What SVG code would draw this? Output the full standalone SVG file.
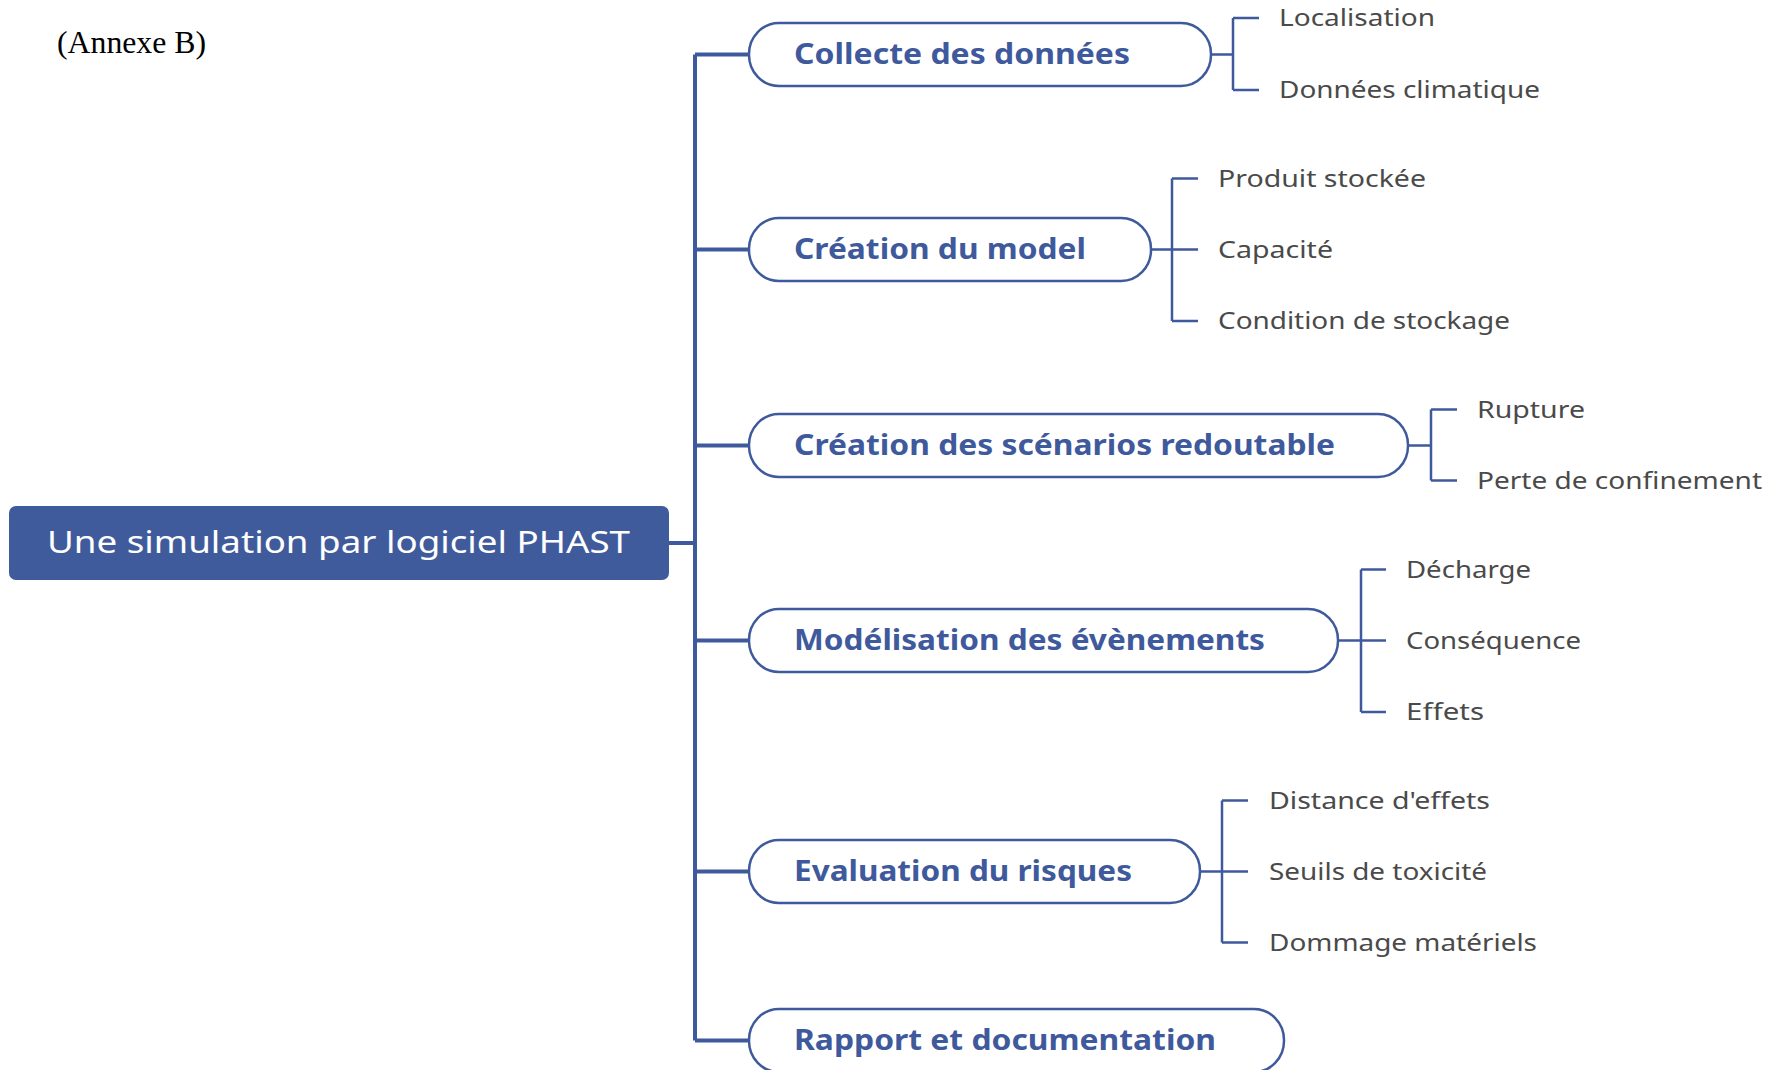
<svg xmlns="http://www.w3.org/2000/svg" width="1778" height="1070" viewBox="0 0 1778 1070">
<style>
.bg{fill:#ffffff}
.main{stroke:#3F5A9C;stroke-width:4;fill:none}
.sub{stroke:#3F5A9C;stroke-width:2.5;fill:none}
.node rect{fill:#ffffff;stroke:#3F5A9C;stroke-width:2.5}
.node text{font-family:"Noto Sans","Open Sans",sans-serif;font-weight:bold;font-size:28px;fill:#3F5A9C}
.root rect{fill:#405B9C}
.root text{font-family:"Noto Sans","Open Sans",sans-serif;font-size:31px;fill:#ffffff}
.leaf{font-family:"Noto Sans","Open Sans",sans-serif;font-size:23px;fill:#4A4A4A}
.title{font-family:"Liberation Serif","Times New Roman",serif;font-size:32px;fill:#000000}
</style>
<rect class="bg" x="0" y="0" width="1778" height="1070"/>
<text class="title" x="57" y="53" textLength="149" lengthAdjust="spacingAndGlyphs">(Annexe B)</text>

<g id="connectors">
  <path class="main" d="M669 543H695M695 54.5V1040.5M695 54.5H749M695 249.5H749M695 445.5H749M695 640.5H749M695 871.5H749M695 1040.5H749"/>
  <path class="sub" d="M1211 54.5H1233M1233 18V90M1233 18H1259M1233 90H1259"/>
  <path class="sub" d="M1151 249.5H1172M1172 178.5V321M1172 178.5H1198M1172 249.5H1198M1172 321H1198"/>
  <path class="sub" d="M1408 445.5H1431M1431 409.5V480.5M1431 409.5H1457M1431 480.5H1457"/>
  <path class="sub" d="M1338 640.5H1361M1361 569.5V712M1361 569.5H1386M1361 640.5H1386M1361 712H1386"/>
  <path class="sub" d="M1200 871.5H1222M1222 800.5V942.5M1222 800.5H1248M1222 871.5H1248M1222 942.5H1248"/>
</g>

<g id="root" class="root">
  <rect x="9" y="506" width="660" height="74" rx="7" ry="7"/>
  <text x="47" y="553" textLength="583" lengthAdjust="spacingAndGlyphs">Une simulation par logiciel PHAST</text>
</g>

<g id="n1" class="node">
  <rect x="749" y="23" width="462" height="63" rx="30" ry="31"/>
  <text x="794" y="64" textLength="336" lengthAdjust="spacingAndGlyphs">Collecte des données</text>
</g>
<g id="n2" class="node">
  <rect x="749" y="218" width="402" height="63" rx="30" ry="31"/>
  <text x="794" y="259" textLength="292" lengthAdjust="spacingAndGlyphs">Création du model</text>
</g>
<g id="n3" class="node">
  <rect x="749" y="414" width="659" height="63" rx="30" ry="31"/>
  <text x="794" y="455" textLength="541" lengthAdjust="spacingAndGlyphs">Création des scénarios redoutable</text>
</g>
<g id="n4" class="node">
  <rect x="749" y="609" width="589" height="63" rx="30" ry="31"/>
  <text x="794" y="650" textLength="471" lengthAdjust="spacingAndGlyphs">Modélisation des évènements</text>
</g>
<g id="n5" class="node">
  <rect x="749" y="840" width="451" height="63" rx="30" ry="31"/>
  <text x="794" y="881" textLength="338" lengthAdjust="spacingAndGlyphs">Evaluation du risques</text>
</g>
<g id="n6" class="node">
  <rect x="749" y="1009" width="535" height="63" rx="30" ry="31"/>
  <text x="794" y="1050" textLength="422" lengthAdjust="spacingAndGlyphs">Rapport et documentation</text>
</g>

<g id="leaves1">
  <text class="leaf" x="1279" y="26" textLength="156" lengthAdjust="spacingAndGlyphs">Localisation</text>
  <text class="leaf" x="1279" y="98" textLength="261" lengthAdjust="spacingAndGlyphs">Données climatique</text>
</g>
<g id="leaves2">
  <text class="leaf" x="1218" y="186.5" textLength="208" lengthAdjust="spacingAndGlyphs">Produit stockée</text>
  <text class="leaf" x="1218" y="257.5" textLength="115" lengthAdjust="spacingAndGlyphs">Capacité</text>
  <text class="leaf" x="1218" y="329" textLength="292" lengthAdjust="spacingAndGlyphs">Condition de stockage</text>
</g>
<g id="leaves3">
  <text class="leaf" x="1477" y="417.5" textLength="108" lengthAdjust="spacingAndGlyphs">Rupture</text>
  <text class="leaf" x="1477" y="488.5" textLength="285" lengthAdjust="spacingAndGlyphs">Perte de confinement</text>
</g>
<g id="leaves4">
  <text class="leaf" x="1406" y="577.5" textLength="125" lengthAdjust="spacingAndGlyphs">Décharge</text>
  <text class="leaf" x="1406" y="648.5" textLength="175" lengthAdjust="spacingAndGlyphs">Conséquence</text>
  <text class="leaf" x="1406" y="720" textLength="78" lengthAdjust="spacingAndGlyphs">Effets</text>
</g>
<g id="leaves5">
  <text class="leaf" x="1269" y="808.5" textLength="221" lengthAdjust="spacingAndGlyphs">Distance d'effets</text>
  <text class="leaf" x="1269" y="879.5" textLength="218" lengthAdjust="spacingAndGlyphs">Seuils de toxicité</text>
  <text class="leaf" x="1269" y="950.5" textLength="268" lengthAdjust="spacingAndGlyphs">Dommage matériels</text>
</g>
</svg>
